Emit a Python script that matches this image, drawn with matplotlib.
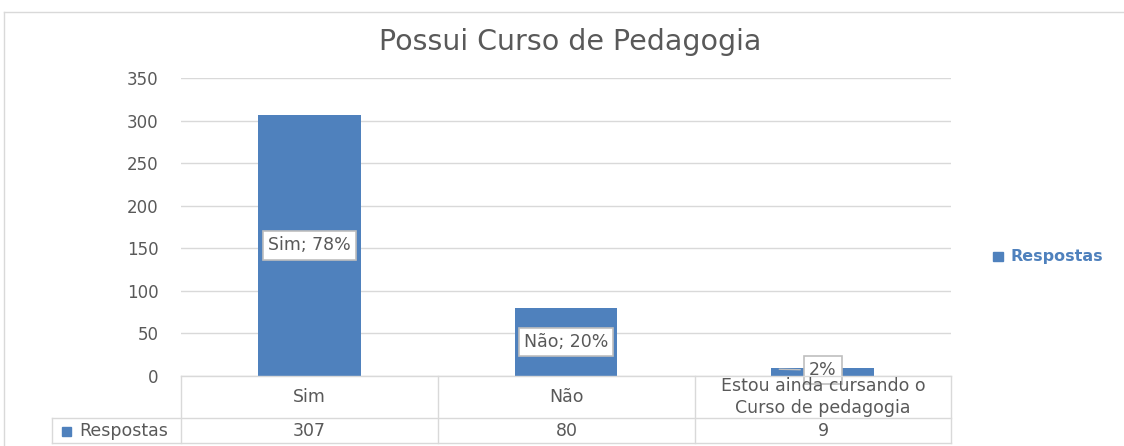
import matplotlib.pyplot as plt
from matplotlib.patches import Rectangle
from matplotlib.lines import Line2D

categorias = ['Sim', 'Não', 'Estou ainda cursando o\nCurso de pedagogia']
respostas = [307, 80, 9]
rotulos = ['Sim; 78%', 'Não; 20%', '2%']
serie = 'Respostas'

W, H = 1124, 446
azul = '#4f81bd'
cinza = '#d9d9d9'
texto = '#595959'

plt.rcParams['font.family'] = ['DejaVu Sans']

fig = plt.figure(figsize=(W / 100, H / 100), dpi=100)


def fx(px):
    return px / W


def fy(py):
    return 1 - py / H


def linha(x0, y0, x1, y1):
    fig.add_artist(Line2D([fx(x0), fx(x1)], [fy(y0), fy(y1)], color=cinza, lw=1))


# moldura do gráfico
linha(4, 12, W, 12)
linha(4, 12, 4, H)

ax = fig.add_axes([fx(181), fy(376), fx(951) - fx(181), fy(78) - fy(376)])
x = range(len(categorias))
ax.bar(x, respostas, width=0.4, color=azul, zorder=2)
ax.set_xlim(-0.5, len(categorias) - 0.5)
ax.set_ylim(0, 350)
ax.set_yticks(range(0, 351, 50))
ax.tick_params(axis='y', length=0, labelsize=12, labelcolor=texto, pad=16)
ax.set_xticks([])
ax.grid(axis='y', color=cinza, lw=1, zorder=0)
for s in ax.spines.values():
    s.set_visible(False)

caixa = dict(boxstyle='square,pad=0.3', fc='white', ec='#bfbfbf', lw=1.2)
for i, (v, r) in enumerate(zip(respostas, rotulos)):
    if v > 30:
        ax.text(i, v / 2, r, ha='center', va='center', fontsize=12.5,
                color=texto, bbox=caixa, zorder=3)
    else:
        ax.annotate(r, xy=(i - 0.18, v - 1), xytext=(i, v * 0.75),
                    ha='center', va='center', fontsize=12.5, color=texto,
                    bbox=caixa, zorder=3,
                    arrowprops=dict(arrowstyle='-', color='#bfbfbf', lw=1))

fig.text(0.5075, fy(42), 'Possui Curso de Pedagogia', ha='center', va='center',
         fontsize=20.5, color=texto)

# tabela de dados
linha(181, 376, 951, 376)
linha(52, 418, 951, 418)
linha(52, 443, 951, 443)
linha(52, 418, 52, 443)
cols = [181, 438, 695, 951]
for px in cols:
    linha(px, 376, px, 443)
for i, (c, v) in enumerate(zip(categorias, respostas)):
    cx = (cols[i] + cols[i + 1]) / 2
    fig.text(fx(cx), fy(397), c, ha='center', va='center', fontsize=12.5,
             color=texto, linespacing=1.25)
    fig.text(fx(cx), fy(431), str(v), ha='center', va='center', fontsize=12.5,
             color=texto)
fig.add_artist(Rectangle((fx(62), fy(436)), fx(9), 9 / H, color=azul))
fig.text(fx(79), fy(431), serie, ha='left', va='center', fontsize=12.5, color=texto)

# legenda
fig.add_artist(Rectangle((fx(993), fy(261)), fx(10), 9 / H, color=azul))
fig.text(fx(1010), fy(256), serie, ha='left', va='center', fontsize=11.5,
         color=azul, fontweight='bold')

fig.savefig('out.png', dpi=100)
